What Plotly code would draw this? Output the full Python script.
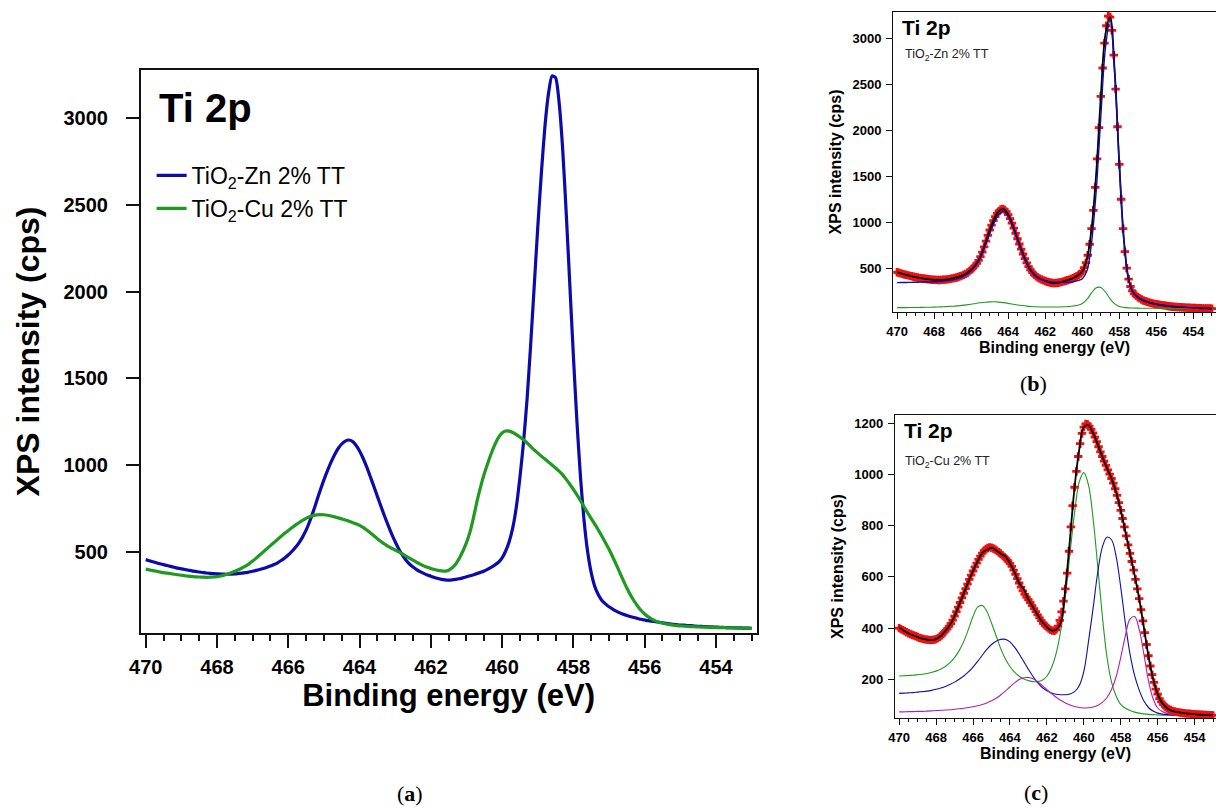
import plotly.graph_objects as go

# ---------------- data ----------------
# measured spectra, 0.1 eV steps from 470.0 to 453.0 eV
energy_data = [round(470.0 - 0.1 * i, 2) for i in range(171)]

zn_counts = [
    455, 449, 443, 437, 431, 426, 421, 416, 411, 406,
    402, 398, 394, 390, 387, 384, 381, 378, 376, 374,
    373, 372, 371, 371, 372, 373, 375, 377, 380, 384,
    388, 393, 398, 404, 411, 418, 427, 437, 450, 465,
    482, 502, 525, 552, 585, 625, 675, 732, 795, 857,
    915, 968, 1017, 1060, 1096, 1122, 1139, 1145, 1137, 1115,
    1082, 1040, 990, 935, 878, 820, 763, 707, 654, 604,
    558, 517, 482, 453, 430, 412, 398, 386, 376, 367,
    360, 352, 346, 341, 338, 337, 338, 341, 345, 350,
    356, 362, 368, 375, 382, 390, 400, 412, 425, 440,
    465, 505, 560, 640, 760, 930, 1130, 1380, 1690, 2030,
    2370, 2680, 2950, 3140, 3245, 3235, 3090, 2820, 2450, 2040,
    1630, 1250, 930, 680, 500, 380, 300, 252, 220, 200,
    183, 170, 158, 148, 140, 133, 127, 121, 116, 111,
    107, 103, 100, 97, 94, 91, 88, 85, 82, 80,
    78, 77, 75, 74, 72, 71, 70, 69, 68, 67,
    66, 65, 64, 63, 63, 62, 61, 61, 60, 60,
    59,
]

cu_counts = [
    400, 396, 392, 388, 384, 380, 377, 374, 371, 368,
    365, 362, 360, 358, 356, 355, 354, 353, 354, 355,
    357, 361, 366, 372, 380, 388, 397, 407, 418, 431,
    447, 464, 482, 500, 518, 536, 554, 572, 590, 607,
    623, 639, 654, 668, 681, 693, 702, 709, 713, 715,
    714, 711, 707, 702, 696, 690, 684, 677, 670, 662,
    653, 641, 626, 610, 593, 576, 560, 545, 532, 521,
    511, 500, 488, 476, 464, 452, 440, 429, 419, 411,
    404, 398, 393, 390, 389, 394, 408, 430, 463, 505,
    553, 615, 700, 795, 878, 950, 1012, 1070, 1120, 1160,
    1185, 1197, 1196, 1188, 1176, 1162, 1146, 1128, 1108, 1088,
    1070, 1052, 1035, 1018, 1001, 984, 966, 944, 918, 890,
    860, 828, 795, 760, 725, 692, 660, 626, 590, 553,
    515, 472, 428, 382, 336, 292, 252, 218, 188, 162,
    142, 125, 112, 102, 94, 88, 84, 80, 77, 75,
    73, 72, 70, 69, 68, 67, 66, 66, 65, 64,
    64, 63, 63, 62, 62, 61, 61, 60, 60, 60,
    59,
]

# fitted curves, 0.25 eV steps from 470.0 to 453.0 eV
energy_fit = [round(470.0 - 0.25 * i, 2) for i in range(69)]

zn_fit = [
    455, 440, 426, 413, 402, 392, 384, 377, 373, 371, 373, 378,
    388, 401, 418, 443, 482, 538, 625, 763, 915, 1038, 1122, 1142,
    1082, 962, 820, 680, 558, 467, 412, 381, 360, 343, 337, 343,
    356, 371, 390, 418, 465, 600, 930, 1530, 2370, 3050, 3235, 2640,
    1630, 800, 380, 235, 183, 153, 133, 118, 107, 98, 91, 84,
    78, 74, 71, 68, 66, 64, 62, 61, 59,
]
zn_ti4 = [
    342, 343, 344, 345, 346, 347, 348, 350, 352, 355, 359, 365,
    373, 385, 403, 432, 472, 530, 612, 740, 880, 1002, 1088, 1118,
    1065, 948, 808, 668, 550, 462, 410, 379, 362, 352, 347, 345,
    345, 347, 352, 363, 385, 470, 780, 1340, 2150, 2900, 3200, 2630,
    1625, 800, 380, 235, 182, 152, 132, 118, 107, 98, 91, 84,
    78, 74, 71, 68, 66, 64, 62, 61, 59,
]
zn_ti3 = [
    70, 70, 70, 71, 71, 72, 73, 74, 75, 77, 79, 82,
    85, 89, 94, 100, 107, 115, 122, 128, 132, 133, 130, 124,
    116, 107, 99, 92, 86, 82, 79, 77, 76, 76, 76, 77,
    79, 82, 87, 95, 115, 160, 230, 285, 290, 240, 165, 110,
    83, 72, 67, 65, 64, 63, 63, 63, 62, 62, 62, 62,
    62, 62, 62, 62, 62, 62, 62, 62, 62,
]

cu_fit = [
    405, 390, 380, 372, 365, 359, 355, 353, 357, 369, 388, 412,
    447, 491, 536, 581, 623, 661, 693, 705, 714, 704, 690, 680,
    653, 618, 576, 552, 511, 482, 452, 424, 404, 391, 394, 419,
    553, 747, 950, 1095, 1185, 1192, 1162, 1118, 1070, 1026, 984, 931,
    860, 777, 692, 608, 515, 405, 292, 203, 142, 107, 88, 78,
    73, 70, 67, 66, 64, 62, 61, 60, 59,
]
cu_green = [
    213, 214, 215, 216, 218, 220, 223, 227, 232, 240, 250, 265,
    285, 312, 348, 395, 445, 482, 488, 465, 420, 370, 320, 280,
    250, 228, 212, 201, 195, 191, 191, 196, 212, 245, 300, 390,
    520, 690, 850, 970, 1007, 960, 830, 645, 450, 290, 190, 135,
    102, 87, 78, 72, 68, 65, 63, 62, 61, 60, 60, 59,
    59, 59, 58, 58, 58, 58, 58, 58, 58,
]
cu_blue = [
    145, 146, 147, 148, 150, 152, 154, 157, 161, 166, 172, 180,
    189, 200, 213, 229, 248, 270, 294, 317, 336, 349, 356, 356,
    346, 326, 299, 269, 239, 211, 187, 168, 155, 147, 142, 140,
    140, 143, 152, 175, 230, 345, 475, 615, 715, 755, 745, 680,
    560, 420, 300, 215, 158, 116, 90, 76, 68, 64, 62, 61,
    60, 59, 59, 59, 58, 58, 58, 58, 58,
]
cu_magenta = [
    73, 73, 74, 74, 75, 75, 76, 77, 78, 79, 80, 81,
    83, 85, 87, 90, 93, 97, 102, 108, 116, 126, 139, 154,
    170, 186, 199, 206, 207, 202, 191, 176, 160, 144, 130, 118,
    108, 100, 94, 90, 88, 89, 92, 98, 110, 128, 160, 210,
    285, 370, 435, 445, 395, 300, 195, 125, 88, 74, 67, 63,
    61, 60, 59, 59, 58, 58, 58, 58, 58,
]

legend_names = ["TiO<sub>2</sub>-Zn 2% TT", "TiO<sub>2</sub>-Cu 2% TT"]

# ---------------- styling ----------------
W, H = 1216, 809
SANS = "Liberation Sans"
SERIF = "Liberation Serif"
BLUE = "#0b0bab"
GREEN = "#1e9a1e"
AX = "#111111"


def px_x(p):
    return p / W


def px_y(p):
    return (H - p) / H


fig = go.Figure()

# ---- panel (a) ----
fig.add_trace(go.Scatter(x=energy_data, y=zn_counts, mode="lines", name=legend_names[0],
                         line=dict(color=BLUE, width=3.2, shape="spline", smoothing=0.6),
                         xaxis="x", yaxis="y"))
fig.add_trace(go.Scatter(x=energy_data, y=cu_counts, mode="lines", name=legend_names[1],
                         line=dict(color=GREEN, width=3.2, shape="spline", smoothing=0.6),
                         xaxis="x", yaxis="y"))

# ---- panel (b) ----
fig.add_trace(go.Scatter(x=energy_data, y=zn_counts, mode="markers", showlegend=False,
                         marker=dict(symbol="cross", size=7, color="#f01010", line=dict(width=0)),
                         xaxis="x2", yaxis="y2"))
fig.add_trace(go.Scatter(x=energy_fit, y=zn_fit, mode="lines", showlegend=False,
                         line=dict(color="#000000", width=1.8, shape="spline"),
                         xaxis="x2", yaxis="y2"))
fig.add_trace(go.Scatter(x=energy_fit, y=zn_ti3, mode="lines", showlegend=False,
                         line=dict(color="#1f9a1f", width=1.1, shape="spline"),
                         xaxis="x2", yaxis="y2"))
fig.add_trace(go.Scatter(x=energy_fit, y=zn_ti4, mode="lines", showlegend=False,
                         line=dict(color="#1010a0", width=1.4, shape="spline"),
                         xaxis="x2", yaxis="y2"))

# ---- panel (c) ----
fig.add_trace(go.Scatter(x=energy_fit, y=cu_green, mode="lines", showlegend=False,
                         line=dict(color="#1f9a1f", width=1.1, shape="spline"),
                         xaxis="x3", yaxis="y3"))
fig.add_trace(go.Scatter(x=energy_fit, y=cu_blue, mode="lines", showlegend=False,
                         line=dict(color="#1010a0", width=1.1, shape="spline"),
                         xaxis="x3", yaxis="y3"))
fig.add_trace(go.Scatter(x=energy_fit, y=cu_magenta, mode="lines", showlegend=False,
                         line=dict(color="#b020b0", width=1.1, shape="spline"),
                         xaxis="x3", yaxis="y3"))
fig.add_trace(go.Scatter(x=energy_data, y=cu_counts, mode="markers", showlegend=False,
                         marker=dict(symbol="cross", size=7, color="#f01010", line=dict(width=0)),
                         xaxis="x3", yaxis="y3"))
fig.add_trace(go.Scatter(x=energy_fit, y=cu_fit, mode="lines", showlegend=False,
                         line=dict(color="#000000", width=1.8, shape="spline"),
                         xaxis="x3", yaxis="y3"))


def xaxis(domain, rng, big, mirror=True):
    return dict(
        domain=domain, range=rng,
        tickmode="linear", tick0=470, dtick=2,
        ticks="outside", ticklen=13 if big else 6, tickwidth=1.5 if big else 1, tickcolor=AX,
        minor=dict(tickmode="linear", tick0=470, dtick=0.5, ticks="outside",
                   ticklen=6 if big else 3, tickwidth=1.5 if big else 1, tickcolor=AX, showgrid=False),
        showline=True, linewidth=1.5 if big else 1.2, linecolor=AX, mirror=mirror,
        showgrid=False, zeroline=False,
        ticklabelstandoff=2 if big else 1,
        tickfont=dict(family=SANS, size=20 if big else 13, color="#000", weight="bold"),
        title=dict(text="Binding energy (eV)",
                   font=dict(family=SANS, size=31 if big else 16, color="#000", weight="bold"),
                   standoff=6 if big else 2),
    )


def yaxis(domain, rng, dtick, big, mirror=True):
    return dict(
        domain=domain, range=rng,
        tickmode="linear", tick0=0, dtick=dtick,
        ticks="outside", ticklen=13 if big else 6, tickwidth=1.5 if big else 1, tickcolor=AX,
        showline=True, linewidth=1.5 if big else 1.2, linecolor=AX, mirror=mirror,
        showgrid=False, zeroline=False,
        ticklabelstandoff=14 if big else 2,
        tickfont=dict(family=SANS, size=20 if big else 13, color="#000", weight="bold"),
        title=dict(text="XPS intensity (cps)",
                   font=dict(family=SANS, size=32 if big else 16, color="#000", weight="bold"),
                   standoff=14 if big else 6),
    )


xa = xaxis([px_x(130), px_x(752)], [470.14, 452.86], True)
xa["anchor"] = "y"
xb = xaxis([px_x(890), 1.0], [470.21, 452.78], False)
xb["anchor"] = "y2"
xc = xaxis([px_x(891.7), 1.0], [470.23, 452.84], False)
xc["anchor"] = "y3"

ya = yaxis([px_y(633), px_y(70)], [32, 3279], 500, True)
ya["anchor"] = "x"
yb = yaxis([px_y(312), px_y(12)], [22, 3290], 500, False, mirror=False)
yb["anchor"] = "x2"
yc = yaxis([px_y(718), px_y(415)], [49, 1232], 200, False, mirror=False)
yc["anchor"] = "x3"

annotations = [
    dict(text="Ti 2p", x=px_x(146), y=px_y(84), xanchor="left", yanchor="top",
         font=dict(family=SANS, size=40, color="#000", weight="bold")),
    dict(text="Ti 2p", x=px_x(897), y=px_y(14), xanchor="left", yanchor="top",
         font=dict(family=SANS, size=21, color="#000", weight="bold")),
    dict(text="TiO<sub>2</sub>-Zn 2% TT", x=px_x(900), y=px_y(55), xanchor="left", yanchor="middle",
         font=dict(family=SANS, size=12.5, color="#222")),
    dict(text="Ti 2p", x=px_x(899), y=px_y(417), xanchor="left", yanchor="top",
         font=dict(family=SANS, size=21, color="#000", weight="bold")),
    dict(text="TiO<sub>2</sub>-Cu 2% TT", x=px_x(900), y=px_y(462), xanchor="left", yanchor="middle",
         font=dict(family=SANS, size=12.5, color="#222")),
    dict(text="(<b>a</b>)", x=px_x(402), y=px_y(793), xanchor="center", yanchor="middle",
         font=dict(family=SERIF, size=22, color="#000")),
    dict(text="(<b>b</b>)", x=px_x(1032), y=px_y(383), xanchor="center", yanchor="middle",
         font=dict(family=SERIF, size=22, color="#000")),
    dict(text="(<b>c</b>)", x=px_x(1034), y=px_y(792), xanchor="center", yanchor="middle",
         font=dict(family=SERIF, size=22, color="#000")),
]
for a in annotations:
    a.update(xref="paper", yref="paper", showarrow=False)

fig.update_layout(
    width=W, height=H, autosize=False,
    margin=dict(l=0, r=0, t=0, b=0, pad=0),
    paper_bgcolor="white", plot_bgcolor="white",
    xaxis=xa, yaxis=ya, xaxis2=xb, yaxis2=yb, xaxis3=xc, yaxis3=yc,
    annotations=annotations,
    showlegend=True,
    legend=dict(x=px_x(141), y=px_y(154), xanchor="left", yanchor="top",
                bgcolor="rgba(0,0,0,0)", borderwidth=0,
                font=dict(family=SANS, size=23, color="#000"),
                itemwidth=30, tracegroupgap=0),
)

fig.write_html("out.html")
